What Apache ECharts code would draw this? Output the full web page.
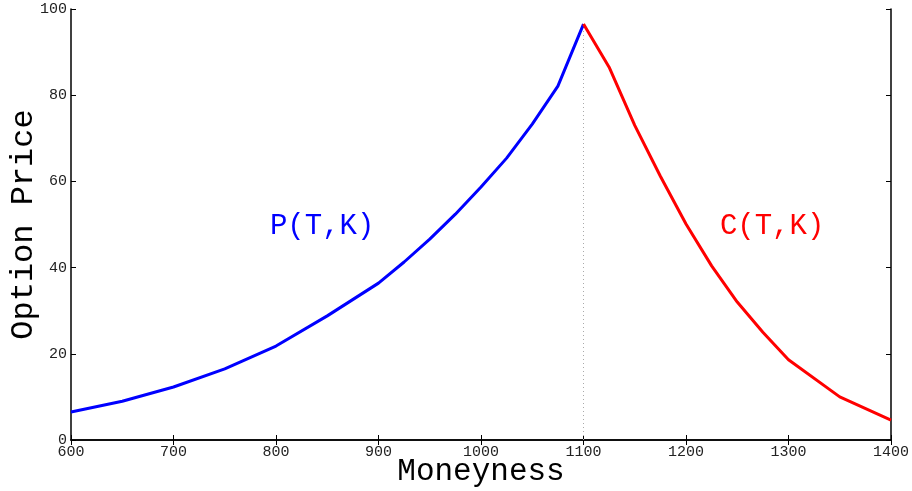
<!DOCTYPE html>
<html>
<head>
<meta charset="utf-8">
<script src="https://cdn.jsdelivr.net/npm/echarts@6/dist/echarts.min.js"></script>
<style>
  html, body { margin: 0; padding: 0; background: #fff; }
  #chart { width: 912px; height: 491px; }
</style>
</head>
<body>
<div id="chart"></div>
<script>
// Put prices P(T,K) for strikes up to the money point
const putStrikes = [600, 650, 700, 750, 800, 850, 900, 925, 950, 975, 1000, 1025, 1050, 1075, 1100];
const putPrices  = [6.5, 9.0, 12.3, 16.5, 21.8, 28.8, 36.4, 41.3, 46.6, 52.4, 58.7, 65.4, 73.3, 82.1, 96.5];

// Call prices C(T,K) from the money point onward
const callStrikes = [1100, 1125, 1150, 1175, 1200, 1225, 1250, 1275, 1300, 1350, 1400];
const callPrices  = [96.5, 86.5, 73.0, 61.2, 50.1, 40.4, 32.0, 25.0, 18.6, 10.0, 4.6];

// At-the-money strike marker
const atmStrike = 1100;
const atmPrice = 96.5;

// Curve labels
const putLabel = { text: 'P(T,K)', x: 845, y: 49.5 };
const callLabel = { text: 'C(T,K)', x: 1284, y: 49.5 };

const xTicks = [600, 700, 800, 900, 1000, 1100, 1200, 1300, 1400];
const yTicks = [0, 20, 40, 60, 80, 100];

const MONO = '"Liberation Mono", "DejaVu Sans Mono", monospace';

const chart = echarts.init(document.getElementById('chart'));

const tickStyle = { show: true, inside: true, length: 5, lineStyle: { color: '#000', width: 1 } };
const lineStyleAxis = { show: true, lineStyle: { color: '#000', width: 1.5 } };
const plain = v => String(v);

chart.setOption({
  animation: false,
  backgroundColor: '#fff',
  grid: { left: 71, right: 21, top: 9, bottom: 51, containLabel: false, outerBoundsMode: 'none' },
  xAxis: [
    {
      type: 'value', min: xTicks[0], max: xTicks[xTicks.length - 1], interval: 100,
      name: 'Moneyness', nameLocation: 'middle', nameGap: 16, nameMoveOverlap: false,
      nameTextStyle: { fontFamily: MONO, fontSize: 31, color: '#000' },
      axisLine: lineStyleAxis, axisTick: tickStyle, splitLine: { show: false },
      axisLabel: { fontFamily: MONO, fontSize: 15, color: '#222', margin: 5, formatter: plain }
    },
    {
      type: 'value', position: 'top', min: xTicks[0], max: xTicks[xTicks.length - 1], interval: 100,
      axisLine: lineStyleAxis, axisTick: tickStyle, splitLine: { show: false },
      axisLabel: { show: false }
    }
  ],
  yAxis: [
    {
      type: 'value', min: yTicks[0], max: yTicks[yTicks.length - 1], interval: 20,
      name: 'Option Price', nameLocation: 'middle', nameGap: 31, nameMoveOverlap: false,
      nameTextStyle: { fontFamily: MONO, fontSize: 32, color: '#000' },
      axisLine: lineStyleAxis, axisTick: tickStyle, splitLine: { show: false },
      axisLabel: { fontFamily: MONO, fontSize: 15, color: '#222', margin: 4, formatter: plain }
    },
    {
      type: 'value', position: 'right', min: yTicks[0], max: yTicks[yTicks.length - 1], interval: 20,
      axisLine: lineStyleAxis, axisTick: tickStyle, splitLine: { show: false },
      axisLabel: { show: false }
    }
  ],
  series: [
    {
      type: 'line', name: 'atm', symbol: 'none', silent: true, z: 1,
      data: [[atmStrike, 0], [atmStrike, atmPrice]],
      lineStyle: { color: '#aaa', width: 1, type: [1, 3] }
    },
    {
      type: 'line', name: 'put', symbol: 'none', z: 3,
      data: putStrikes.map((k, i) => [k, putPrices[i]]),
      lineStyle: { color: '#0000ff', width: 3 }
    },
    {
      type: 'line', name: 'call', symbol: 'none', z: 3,
      data: callStrikes.map((k, i) => [k, callPrices[i]]),
      lineStyle: { color: '#ff0000', width: 3 }
    },
    {
      type: 'scatter', symbolSize: 0, silent: true, z: 4,
      itemStyle: { opacity: 1 },
      data: [
        { value: [putLabel.x, putLabel.y], label: { formatter: putLabel.text, color: '#0000ff' } },
        { value: [callLabel.x, callLabel.y], label: { formatter: callLabel.text, color: '#ff0000' } }
      ],
      label: { show: true, position: 'inside', fontFamily: MONO, fontSize: 29, opacity: 1 }
    }
  ]
});
</script>
</body>
</html>
